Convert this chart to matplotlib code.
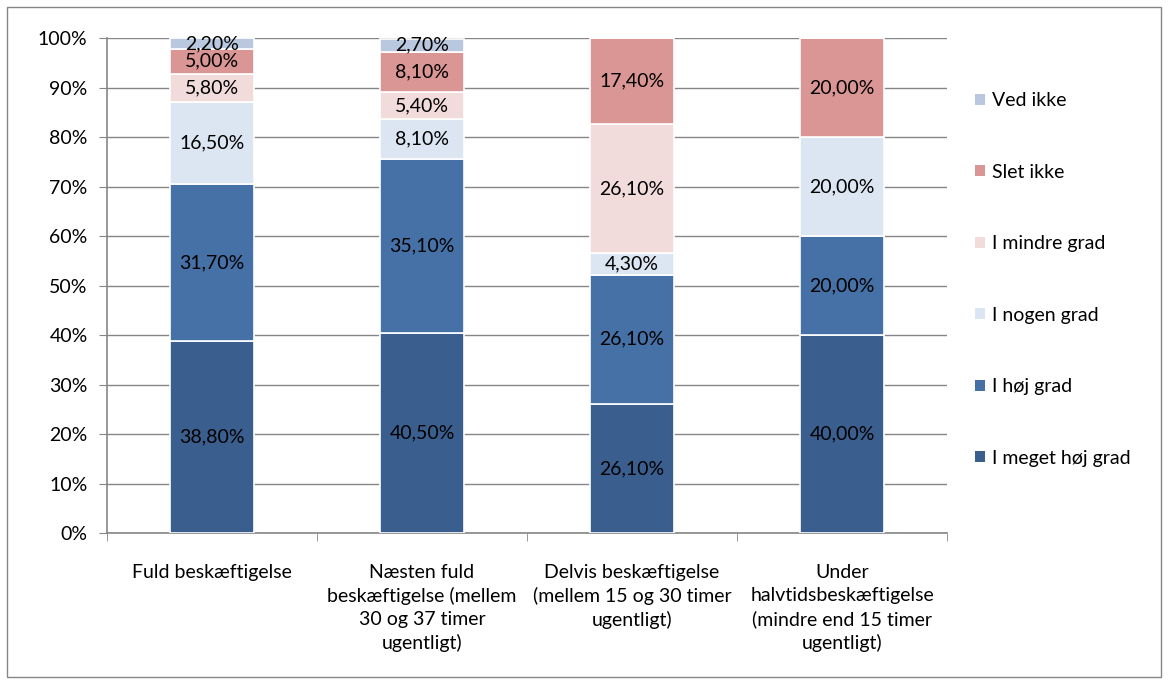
import matplotlib
matplotlib.use("Agg")
import matplotlib.pyplot as plt
from matplotlib.patches import Rectangle, Patch
import numpy as np

plt.rcParams["font.family"] = ["Lato", "DejaVu Sans"]

categories = [
    "Fuld beskæftigelse",
    "Næsten fuld\nbeskæftigelse (mellem\n30 og 37 timer\nugentligt)",
    "Delvis beskæftigelse\n(mellem 15 og 30 timer\nugentligt)",
    "Under\nhalvtidsbeskæftigelse\n(mindre end 15 timer\nugentligt)",
]
series_names = ["I meget høj grad", "I høj grad", "I nogen grad",
                "I mindre grad", "Slet ikke", "Ved ikke"]
meget_hoej = [38.8, 40.5, 26.1, 40.0]
hoej = [31.7, 35.1, 26.1, 20.0]
nogen = [16.5, 8.1, 4.3, 20.0]
mindre = [5.8, 5.4, 26.1, 0.0]
slet = [5.0, 8.1, 17.4, 20.0]
ved_ikke = [2.2, 2.7, 0.0, 0.0]
colors = ["#3A5F8E", "#4571A7", "#DCE6F2", "#F2DCDB", "#D99694", "#B9C8DF"]

values = [meget_hoej, hoej, nogen, mindre, slet, ved_ikke]
FS = 14

fig = plt.figure(figsize=(11.68, 6.8), dpi=100)
ax = fig.add_axes([0.0916, 0.216, 0.7192, 0.728])

x = np.arange(len(categories))
bottom = np.zeros(len(categories))
for name, vals, col in zip(series_names, values, colors):
    vals = np.array(vals)
    ax.bar(x, vals, 0.4, bottom=bottom, color=col, edgecolor="white",
           linewidth=1.2, label=name, zorder=3)
    for xi, b, v in zip(x, bottom, vals):
        if v > 0:
            ax.text(xi, b + v / 2, f"{v:.2f}%".replace(".", ","),
                    ha="center", va="center", fontsize=FS, color="black", zorder=4)
    bottom += vals

ax.set_xlim(-0.5, 3.5)
ax.set_ylim(0, 100)
ax.set_yticks(np.arange(0, 101, 10))
ax.set_yticklabels([f"{t}%" for t in range(0, 101, 10)], fontsize=FS)
ax.yaxis.grid(True, color="#868686", linewidth=1, zorder=0)
ax.set_axisbelow(True)

ax.set_xticks(x)
ax.set_xticklabels(categories, fontsize=FS, linespacing=1.42)
ax.set_xticks([-0.5, 0.5, 1.5, 2.5, 3.5], minor=True)
ax.tick_params(axis="x", which="major", length=0, pad=22)
ax.tick_params(axis="x", which="minor", length=6, color="#868686", direction="out")
ax.tick_params(axis="y", length=6, color="#868686", direction="out", pad=8)

for s in ["top", "right"]:
    ax.spines[s].set_visible(False)
for s in ["left", "bottom"]:
    ax.spines[s].set_color("#868686")
    ax.spines[s].set_linewidth(1.2)

handles = [Patch(facecolor=c, edgecolor="none") for c in colors][::-1]
fig.legend(handles, series_names[::-1], loc="upper left",
           bbox_to_anchor=(0.82, 0.89), frameon=False, fontsize=FS,
           handlelength=0.5, handleheight=0.5, handletextpad=0.35,
           labelspacing=2.8)

fig.patches.append(Rectangle((0.006, 0.004), 0.988, 0.986, transform=fig.transFigure,
                             fill=False, edgecolor="#868686", linewidth=1))

fig.savefig("out.png", dpi=100)
